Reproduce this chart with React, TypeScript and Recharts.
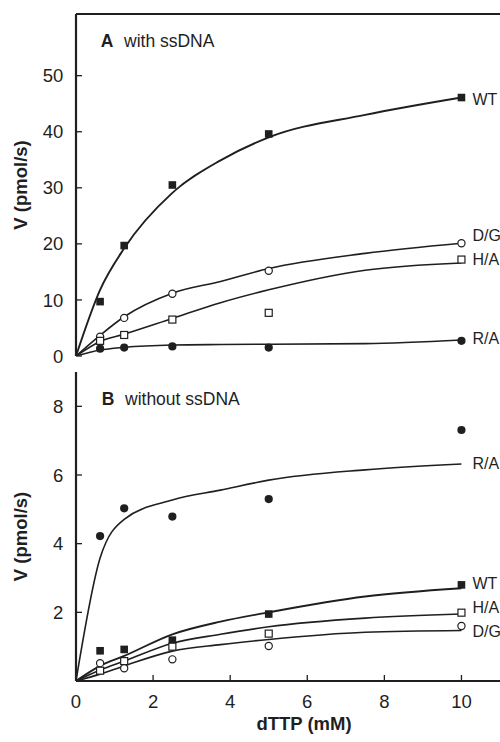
import React from "react";
import {
  ComposedChart,
  Line,
  Scatter,
  XAxis,
  YAxis,
  ReferenceLine,
} from "recharts";

// dTTP concentrations (mM) where rates were measured
const conc = [0.625, 1.25, 2.5, 5, 10];
// x positions of the drawn fit curves
const fitX = [0, 0.625, 1.25, 2.5, 3.75, 5, 7.5, 10];

// Panel A: with ssDNA (pmol/s)
const wtA = [9.7, 19.7, 30.5, 39.6, 46.1];
const dgA = [3.45, 6.8, 11.1, 15.2, 20.1];
const haA = [2.7, 3.75, 6.5, 7.7, 17.2];
const raA = [1.3, 1.5, 1.7, 1.5, 2.7];
const wtFitA = [0, 11.8, 19.2, 29.1, 34.9, 39.0, 43.0, 46.1];
const dgFitA = [0, 3.7, 7.0, 11.2, 13.3, 15.6, 18.3, 20.1];
const haFitA = [0, 2.6, 3.9, 6.7, 9.5, 11.8, 15.3, 16.6];
const raFitA = [0, 1.07, 1.55, 1.96, 2.05, 2.1, 2.2, 2.85];

// Panel B: without ssDNA (pmol/s)
const raB = [4.22, 5.03, 4.79, 5.3, 7.31];
const wtB = [0.88, 0.92, 1.19, 1.95, 2.8];
const haB = [0.3, 0.58, 1.0, 1.38, 1.99];
const dgB = [0.52, 0.37, 0.63, 1.02, 1.6];
const raFitB = [0, 3.58, 4.71, 5.27, 5.56, 5.85, 6.15, 6.32];
const wtFitB = [0, 0.44, 0.73, 1.36, 1.73, 2.0, 2.46, 2.7];
const haFitB = [0, 0.32, 0.58, 1.1, 1.36, 1.58, 1.83, 1.95];
const dgFitB = [0, 0.2, 0.44, 0.87, 1.06, 1.21, 1.42, 1.47];

const xTicks = [0, 2, 4, 6, 8, 10];
const yTicksA = [0, 10, 20, 30, 40, 50];
const yTicksB = [2, 4, 6, 8];

const INK = "#1f1f1f";
const FONT = '"Liberation Sans", Arial, Helvetica, sans-serif';

const pts = (xs: number[], ys: number[]) => xs.map((x, i) => ({ x, y: ys[i] }));

// marker shapes
const FilledSquare = (p: any) => (
  <rect x={p.cx - 3.8} y={p.cy - 3.8} width={7.6} height={7.6} fill={INK} />
);
const OpenSquare = (p: any) => (
  <rect x={p.cx - 3.5} y={p.cy - 3.5} width={7} height={7} fill="#fff" stroke={INK} strokeWidth={1.2} />
);
const OpenCircle = (p: any) => (
  <circle cx={p.cx} cy={p.cy} r={3.6} fill="#fff" stroke={INK} strokeWidth={1.2} />
);
const FilledCircle = (p: any) => <circle cx={p.cx} cy={p.cy} r={4.1} fill={INK} />;

// series name written just right of the curve's last point
const endLabel = (name: string, dy: number) => (props: any) => {
  if (props.index !== fitX.length - 1) return null;
  const x = props.x ?? props.viewBox?.x;
  const y = props.y ?? props.viewBox?.y;
  return (
    <text x={x + 11} y={y + dy} fontSize={16} fontFamily={FONT} fill={INK}>
      {name}
    </text>
  );
};

const yLabel = (shift: number) => (props: any) => {
  const vb = props.viewBox;
  const cy = vb.y + vb.height / 2 + shift;
  return (
    <text
      x={26.5}
      y={cy}
      transform={`rotate(-90, 26.5, ${cy})`}
      textAnchor="middle"
      fontSize={18.5}
      fontWeight="bold"
      fontFamily={FONT}
      fill={INK}
    >
      V (pmol/s)
    </text>
  );
};

const tickStyle = { fontSize: 18.5, fill: INK, fontFamily: FONT };
const axisLine = { stroke: INK, strokeWidth: 2.2 };
const tickLine = { stroke: INK, strokeWidth: 1.3 };

const curve = (data: any[], name: string, dy: number, w = 1.6) => (
  <Line
    data={data}
    dataKey="y"
    type="monotone"
    stroke={INK}
    strokeWidth={w}
    dot={false}
    activeDot={false}
    isAnimationActive={false}
    label={endLabel(name, dy)}
  />
);

export default function App() {
  return (
    <div style={{ position: "absolute", left: 0, top: 0, width: 500, height: 742, background: "#fff", overflow: "hidden" }}>
      <div style={{ position: "absolute", left: 0, top: 0 }}>
        <ComposedChart width={500} height={370} margin={{ top: 14, right: 0, bottom: 14, left: 0 }}>
          <XAxis
            type="number"
            dataKey="x"
            domain={[0, 11]}
            ticks={xTicks}
            tickFormatter={() => ""}
            tickSize={-6}
            height={0}
            axisLine={axisLine}
            tickLine={tickLine}
            allowDataOverflow
          />
          <YAxis
            type="number"
            dataKey="y"
            domain={[0, 61]}
            ticks={yTicksA}
            width={76}
            tickSize={-6}
            tickMargin={18.7}
            tick={tickStyle}
            axisLine={axisLine}
            tickLine={tickLine}
            label={{ content: yLabel(0) }}
            allowDataOverflow
          />
          <ReferenceLine y={61} stroke={INK} strokeWidth={2.2} />
          {curve(pts(fitX, wtFitA), "WT", 7.5, 1.9)}
          {curve(pts(fitX, dgFitA), "D/G", -2.3)}
          {curve(pts(fitX, haFitA), "H/A", 2)}
          {curve(pts(fitX, raFitA), "R/A", 4)}
          <Scatter data={pts(conc, wtA)} shape={FilledSquare} isAnimationActive={false} />
          <Scatter data={pts(conc, dgA)} shape={OpenCircle} isAnimationActive={false} />
          <Scatter data={pts(conc, haA)} shape={OpenSquare} isAnimationActive={false} />
          <Scatter data={pts(conc, raA)} shape={FilledCircle} isAnimationActive={false} />
          <text x={100.7} y={46.7} fontSize={17.5} fontFamily={FONT} fill={INK}>
            <tspan fontWeight="bold">A</tspan>
            <tspan x={124}>with ssDNA</tspan>
          </text>
        </ComposedChart>
      </div>
      <div style={{ position: "absolute", left: 0, top: 360 }}>
        <ComposedChart width={500} height={382} margin={{ top: 12, right: 0, bottom: 0, left: 0 }}>
          <XAxis
            type="number"
            dataKey="x"
            domain={[0, 11]}
            ticks={xTicks}
            tickSize={-6}
            tickMargin={20}
            height={61}
            tick={tickStyle}
            axisLine={axisLine}
            tickLine={tickLine}
            label={{
              content: (props: any) => {
                const vb = props.viewBox;
                return (
                  <text
                    x={vb.x + vb.width / 2 + 16}
                    y={vb.y + vb.height - 12}
                    textAnchor="middle"
                    fontSize={18.5}
                    fontWeight="bold"
                    fontFamily={FONT}
                    fill={INK}
                  >
                    dTTP (mM)
                  </text>
                );
              },
            }}
            allowDataOverflow
          />
          <YAxis
            type="number"
            dataKey="y"
            domain={[0, 9]}
            ticks={yTicksB}
            width={76}
            tickSize={-6}
            tickMargin={18.7}
            tick={tickStyle}
            axisLine={axisLine}
            tickLine={tickLine}
            label={{ content: yLabel(10) }}
            allowDataOverflow
          />
          {curve(pts(fitX, raFitB), "R/A", 5)}
          {curve(pts(fitX, wtFitB), "WT", 0.7, 1.9)}
          {curve(pts(fitX, haFitB), "H/A", -1)}
          {curve(pts(fitX, dgFitB), "D/G", 6.5)}
          <Scatter data={pts(conc, raB)} shape={FilledCircle} isAnimationActive={false} />
          <Scatter data={pts(conc, wtB)} shape={FilledSquare} isAnimationActive={false} />
          <Scatter data={pts(conc, haB)} shape={OpenSquare} isAnimationActive={false} />
          <Scatter data={pts(conc, dgB)} shape={OpenCircle} isAnimationActive={false} />
          <text x={101.7} y={45} fontSize={17.5} fontFamily={FONT} fill={INK}>
            <tspan fontWeight="bold">B</tspan>
            <tspan x={125}>without ssDNA</tspan>
          </text>
        </ComposedChart>
      </div>
    </div>
  );
}
